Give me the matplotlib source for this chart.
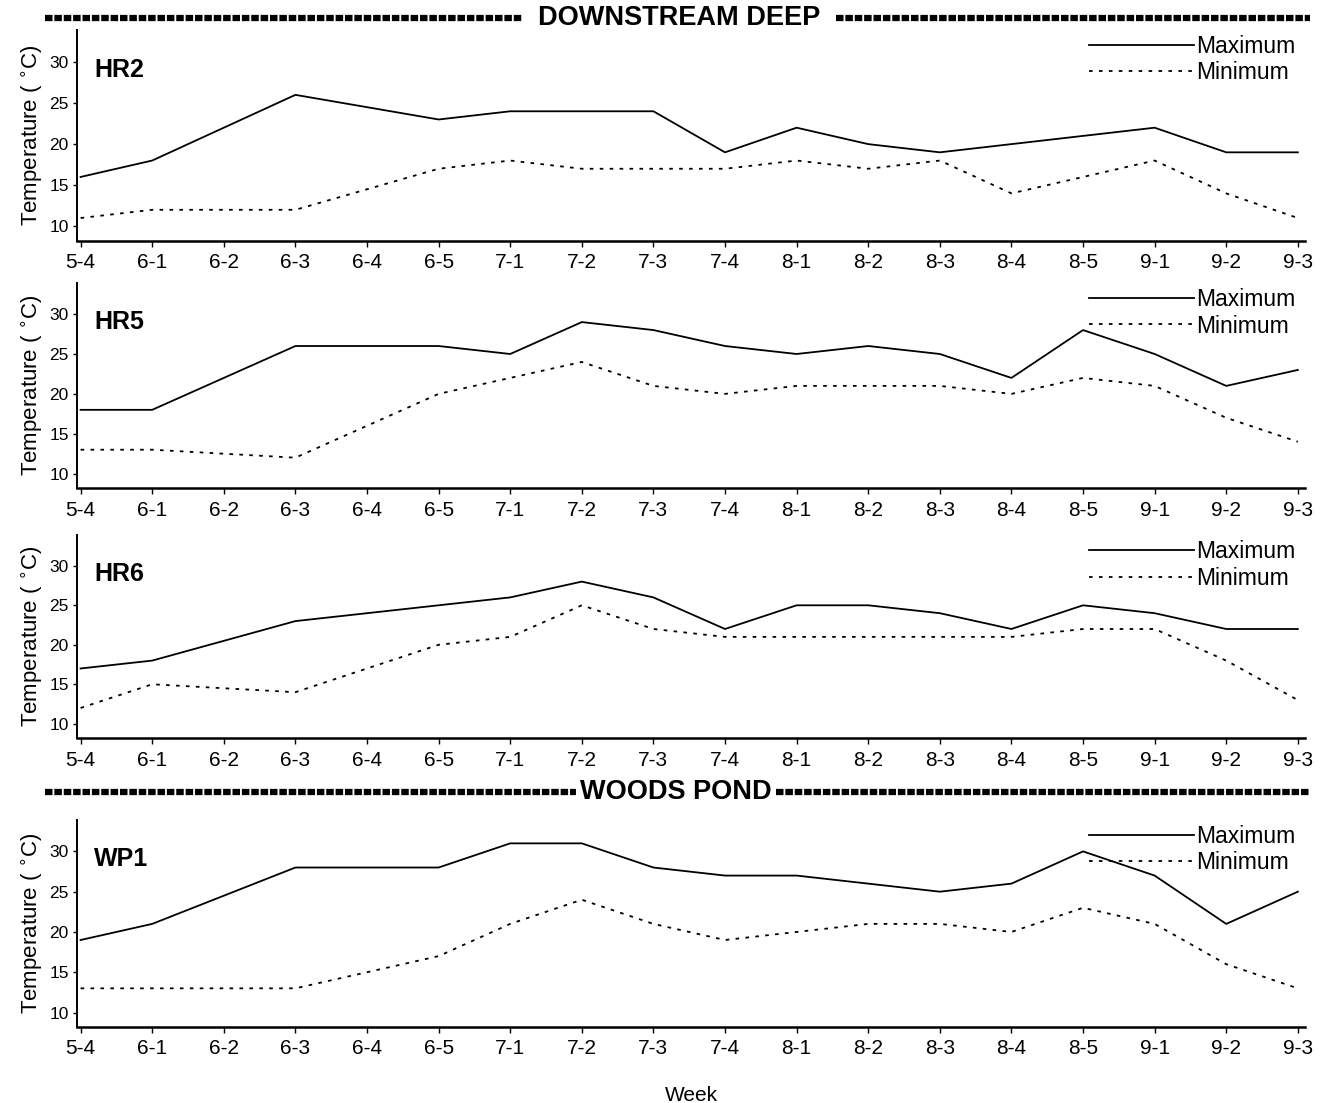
import matplotlib
matplotlib.use("Agg")
import matplotlib.pyplot as plt
from matplotlib.lines import Line2D

plt.rcParams['font.family'] = ['Liberation Sans', 'DejaVu Sans']

weeks = ["5-4", "6-1", "6-2", "6-3", "6-4", "6-5", "7-1", "7-2", "7-3",
         "7-4", "8-1", "8-2", "8-3", "8-4", "8-5", "9-1", "9-2", "9-3"]

stations = ["HR2", "HR5", "HR6", "WP1"]

hr2_max = [16, 18, 22, 26, 24.5, 23, 24, 24, 24, 19, 22, 20, 19, 20, 21, 22, 19, 19]
hr2_min = [11, 12, 12, 12, 14.5, 17, 18, 17, 17, 17, 18, 17, 18, 14, 16, 18, 14, 11]

hr5_max = [18, 18, 22, 26, 26, 26, 25, 29, 28, 26, 25, 26, 25, 22, 28, 25, 21, 23]
hr5_min = [13, 13, 12.5, 12, 16, 20, 22, 24, 21, 20, 21, 21, 21, 20, 22, 21, 17, 14]

hr6_max = [17, 18, 20.5, 23, 24, 25, 26, 28, 26, 22, 25, 25, 24, 22, 25, 24, 22, 22]
hr6_min = [12, 15, 14.5, 14, 17, 20, 21, 25, 22, 21, 21, 21, 21, 21, 22, 22, 18, 13]

wp1_max = [19, 21, 24.5, 28, 28, 28, 31, 31, 28, 27, 27, 26, 25, 26, 30, 27, 21, 25]
wp1_min = [13, 13, 13, 13, 15, 17, 21, 24, 21, 19, 20, 21, 21, 20, 23, 21, 16, 13]

series_max = [hr2_max, hr5_max, hr6_max, wp1_max]
series_min = [hr2_min, hr5_min, hr6_min, wp1_min]

y_ticks = [10, 15, 20, 25, 30]

W, H = 1333, 1103
fig = plt.figure(figsize=(W / 100, H / 100), dpi=100)

# panel boxes in pixel units: (top, bottom)
boxes = [(30, 241), (283, 488), (535, 738), (820, 1027)]
left_px, right_px = 77, 1305

x = list(range(len(weeks)))
for i, (top, bot) in enumerate(boxes):
    ax = fig.add_axes([left_px / W, 1 - bot / H, (right_px - left_px) / W, (bot - top) / H])
    ax.plot(x, series_max[i], color="black", lw=1.3, ls="-", label="Maximum")
    ax.plot(x, series_min[i], color="black", lw=1.3, ls=(0, (2, 3.5)), label="Minimum")
    ax.set_xlim(-0.05, 17.1)
    ax.set_ylim(8.2, 33.9)
    ax.set_xticks(x)
    ax.set_xticklabels(weeks, fontsize=15)
    ax.set_yticks(y_ticks)
    ax.set_yticklabels([str(t) for t in y_ticks], fontsize=12.5)
    ax.tick_params(axis="x", length=4, width=1, pad=5)
    ax.tick_params(axis="y", length=3, width=1, pad=3)
    for s in ("top", "right"):
        ax.spines[s].set_visible(False)
    ax.spines["left"].set_linewidth(1.4)
    ax.spines["bottom"].set_linewidth(1.8)
    ax.spines["bottom"].set_linestyle((0, (4, 1)))
    ax.set_ylabel("Temperature ( $^{\\circ}$C)", fontsize=16, labelpad=3)
    ax.text(0.014, 0.81, stations[i], transform=ax.transAxes, fontsize=18,
            fontweight="bold", va="center", ha="left")
    ax.legend(loc="upper right", bbox_to_anchor=(1.0, 1.02), frameon=False,
              fontsize=16.5, handlelength=4.6, handletextpad=0.1,
              labelspacing=0.15, borderaxespad=0.0)
    if i == 3:
        ax.set_xlabel("Week", fontsize=15, labelpad=20)


def section_header(text, y_px, x_text_px, gap_left, gap_right):
    yf = 1 - y_px / H
    fig.text(x_text_px / W, yf, text, fontsize=19.5, fontweight="bold",
             ha="center", va="center")
    fig.add_artist(Line2D([45 / W, gap_left / W], [yf, yf], lw=4.5, color="black",
                          ls=(0, (1.2, 0.3)), transform=fig.transFigure))
    fig.add_artist(Line2D([gap_right / W, 1310 / W], [yf, yf], lw=4.5, color="black",
                          ls=(0, (1.2, 0.3)), transform=fig.transFigure))


section_header("DOWNSTREAM DEEP", 18, 679, 522, 836)
section_header("WOODS POND", 792, 676, 576, 776)

fig.savefig("out.png", dpi=100)
